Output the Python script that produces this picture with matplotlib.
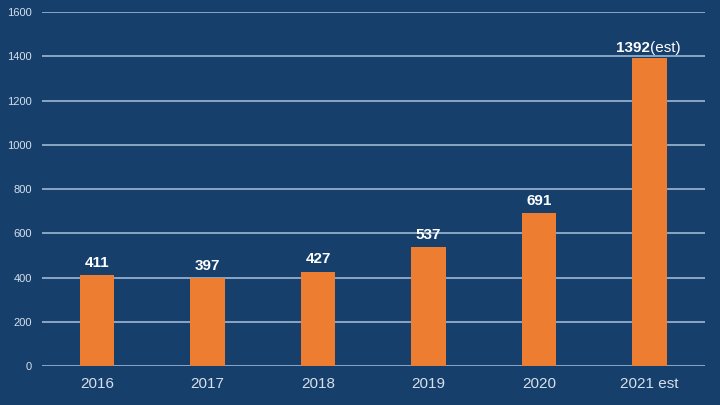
import matplotlib.pyplot as plt

plt.rcParams['font.family'] = ['Liberation Sans', 'DejaVu Sans']

years = ['2016', '2017', '2018', '2019', '2020', '2021 est']
values = [411, 397, 427, 537, 691, 1392]
value_labels = ['411', '397', '427', '537', '691', '1392']

bg = '#173f6b'
bar_color = '#ed7d31'
grid_color = '#a9c2dc'
tick_color = '#d5e0ec'

fig = plt.figure(figsize=(7.2, 4.05), dpi=100, facecolor=bg)
ax = fig.add_axes([0.058, 0.096, 0.921, 0.874], facecolor=bg)

x = range(len(years))
ax.bar(x, values, width=0.31, color=bar_color, zorder=3)

for i, (v, lab) in enumerate(zip(values, value_labels)):
    if i == len(values) - 1:
        ax.annotate(lab, (i, v), xytext=(0, 2), textcoords='offset points',
                    ha='right', va='bottom', color='white', fontsize=11, fontweight='bold')
        ax.annotate('(est)', (i, v), xytext=(0, 2), textcoords='offset points',
                    ha='left', va='bottom', color='white', fontsize=11)
    else:
        ax.annotate(lab, (i, v), xytext=(0, 4), textcoords='offset points',
                    ha='center', va='bottom', color='white', fontsize=11, fontweight='bold')

ax.set_xlim(-0.5, len(years) - 0.5)
ax.set_ylim(0, 1600)
ax.set_yticks(range(0, 1601, 200))
ax.set_xticks(list(x))
ax.set_xticklabels(years)
ax.yaxis.grid(True, color=grid_color, linewidth=1.1, zorder=0)
ax.tick_params(axis='y', length=0, labelsize=8, labelcolor=tick_color, pad=7)
ax.tick_params(axis='x', length=0, labelsize=11, labelcolor=tick_color, pad=8)
for s in ax.spines.values():
    s.set_visible(False)

fig.savefig('out.png', dpi=100, facecolor=bg)
